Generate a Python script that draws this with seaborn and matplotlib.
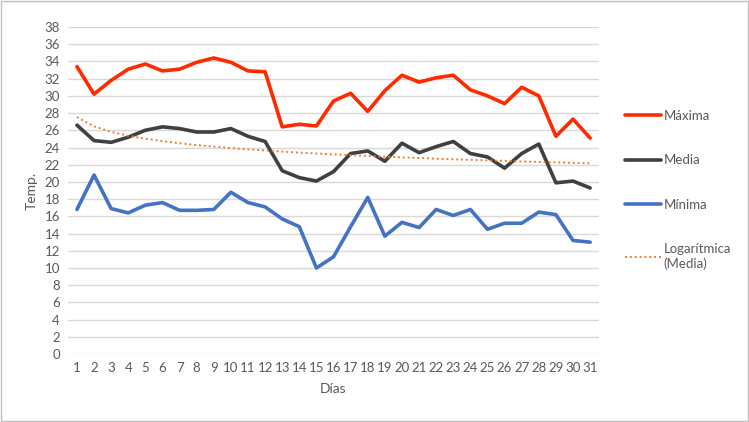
import numpy as np
import pandas as pd
import seaborn as sns
import matplotlib.pyplot as plt
from matplotlib.lines import Line2D
from matplotlib.patches import Rectangle

# daily temperatures
dias = list(range(1, 32))
maxima = [33.4, 30.2, 31.8, 33.1, 33.7, 32.9, 33.1, 33.9, 34.4, 33.9, 32.9, 32.8,
          26.4, 26.7, 26.5, 29.4, 30.3, 28.2, 30.6, 32.4, 31.6, 32.1, 32.4, 30.7,
          30.0, 29.1, 31.0, 30.0, 25.3, 27.3, 25.1]
media = [26.6, 24.8, 24.6, 25.2, 26.0, 26.4, 26.2, 25.8, 25.8, 26.2, 25.3, 24.7,
         21.3, 20.5, 20.1, 21.2, 23.3, 23.6, 22.4, 24.5, 23.4, 24.1, 24.7, 23.3,
         22.9, 21.6, 23.3, 24.4, 19.9, 20.1, 19.3]
minima = [16.8, 20.8, 16.9, 16.4, 17.3, 17.6, 16.7, 16.7, 16.8, 18.8, 17.6, 17.1,
          15.7, 14.8, 10.0, 11.3, 14.8, 18.2, 13.7, 15.3, 14.7, 16.8, 16.1, 16.8,
          14.5, 15.2, 15.2, 16.5, 16.2, 13.2, 13.0]
series = ['Máxima', 'Media', 'Mínima']
colors = ['#FF2A00', '#404040', '#4472C4']
trend_color = '#ED7D31'
text_color = '#595959'

sns.set_style("white")
plt.rcParams['font.family'] = ['Lato', 'DejaVu Sans']

df = pd.DataFrame({
    'Días': dias * 3,
    'Temp.': maxima + media + minima,
    'Serie': [s for s in series for _ in dias],
})

# logarithmic trendline of Media
b, a = np.polyfit(np.log(dias), media, 1)
trend = a + b * np.log(np.array(dias))

fig = plt.figure(figsize=(7.49, 4.22), dpi=100)
fig.patches.append(Rectangle((0.001, 0.003), 0.997, 0.995, transform=fig.transFigure,
                             fill=False, edgecolor='#bfbfbf', linewidth=1))
ax = fig.add_axes([0.0913, 0.161, 0.708, 0.775])

sns.lineplot(data=df, x='Días', y='Temp.', hue='Serie', hue_order=series,
             palette=colors, linewidth=2.6, ax=ax, legend=False)
sns.lineplot(x=dias, y=trend, color=trend_color, linestyle=(0, (1, 1.5)),
             linewidth=1.4, ax=ax, legend=False)

ax.set_xlim(0.5, 31.5)
ax.set_ylim(0, 38)
ax.set_xticks(dias)
ax.set_yticks(range(0, 39, 2))
ax.tick_params(length=0, labelsize=9.5, labelcolor=text_color, pad=6)
ax.grid(axis='y', color='#d9d9d9', linewidth=1)
ax.set_axisbelow(True)
for s in ax.spines.values():
    s.set_visible(False)
ax.set_xlabel('Días', fontsize=10, color=text_color, labelpad=6)
ax.set_ylabel('Temp.', fontsize=10, color=text_color, labelpad=5)

handles = [Line2D([], [], color=c, linewidth=2.6) for c in colors]
handles.append(Line2D([], [], color=trend_color, linestyle=(0, (1, 1.5)), linewidth=1.4))
labels = series + ['Logarítmica\n(Media)']
fig.legend(handles, labels, loc='center left', bbox_to_anchor=(0.818, 0.55),
           frameon=False, fontsize=9.5, labelcolor=text_color, handlelength=2.75,
           handletextpad=0.2, labelspacing=2.45)

fig.savefig('out.png', dpi=100)
